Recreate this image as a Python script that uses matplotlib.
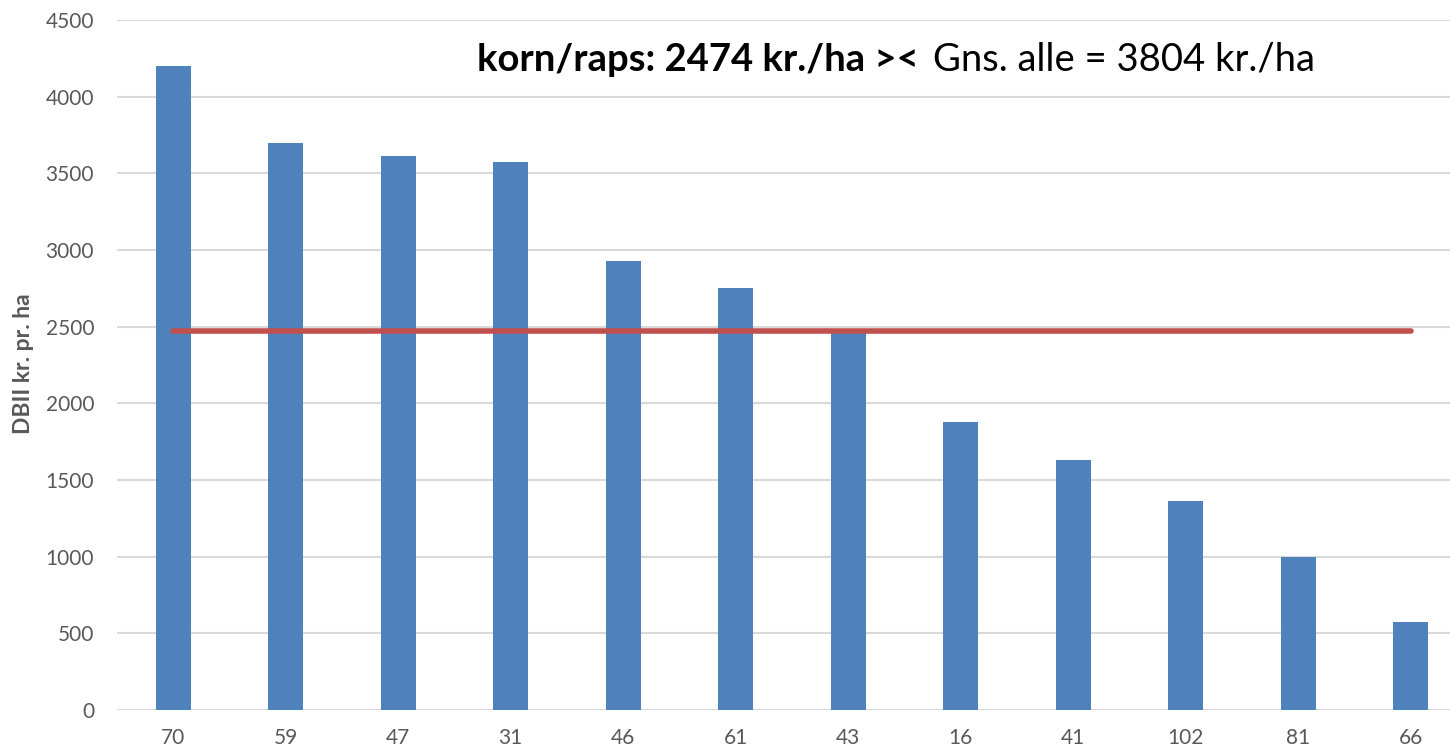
import matplotlib
matplotlib.use('Agg')
import matplotlib.pyplot as plt
import numpy as np

# data
farms = ['70', '59', '47', '31', '46', '61', '43', '16', '41', '102', '81', '66']
dbii = [4200, 3700, 3610, 3575, 2925, 2750, 2480, 1880, 1632, 1365, 998, 575]
korn_raps_avg = 2474
alle_avg = 3804

plt.rcParams['font.family'] = ['Lato', 'DejaVu Sans']

fig = plt.figure(figsize=(14.5, 7.51), dpi=100)
ax = fig.add_axes([0.0807, 0.0546, 0.9193, 0.9188])

x = np.arange(len(farms))
ax.bar(x, dbii, width=0.31, color='#4F81BD', zorder=3)
ax.plot([x[0], x[-1]], [korn_raps_avg, korn_raps_avg], color='#C0504D',
        linewidth=4, solid_capstyle='round', zorder=4)

ax.set_ylim(0, 4500)
ax.set_xlim(-0.5, 11.35)
ax.set_yticks(range(0, 4501, 500))
ax.set_xticks(x)
ax.set_xticklabels(farms)
ax.grid(axis='y', color='#D9D9D9', linewidth=1.5, zorder=0)
for s in ax.spines.values():
    s.set_visible(False)
ax.tick_params(length=0, labelsize=15, colors='#595959', pad=13)
ax.tick_params(axis='y', pad=16.5)
ax.set_ylabel('DBII kr. pr. ha', fontsize=16.5, fontweight='bold', color='#595959')
ax.yaxis.set_label_coords(-0.062, 0.502)

ax.text(0.2701, 0.942, f'korn/raps: {korn_raps_avg} kr./ha ><', transform=ax.transAxes,
        fontsize=27.5, fontweight='bold', va='center', ha='left', color='black')
ax.text(0.6125, 0.942, f'Gns. alle = {alle_avg} kr./ha', transform=ax.transAxes,
        fontsize=27.5, va='center', ha='left', color='black')

fig.savefig('out.png', dpi=100)
